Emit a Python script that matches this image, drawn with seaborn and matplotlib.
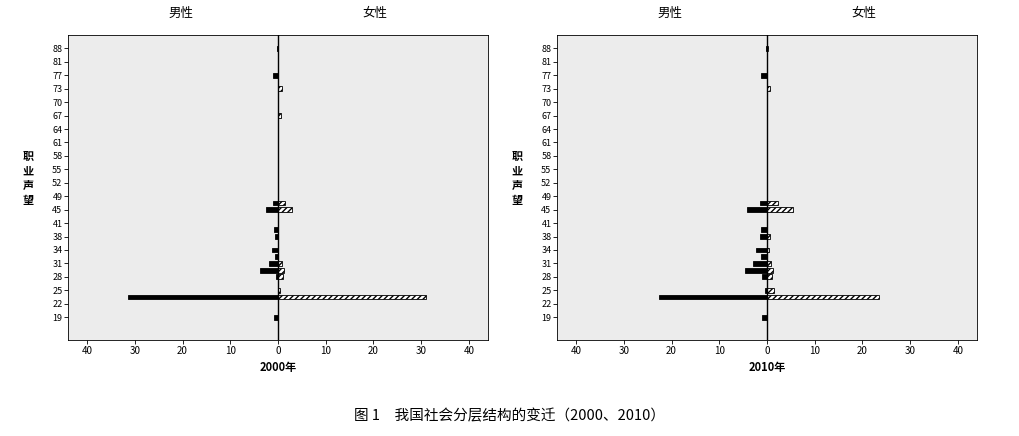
import numpy as np
import pandas as pd
import matplotlib
matplotlib.use("Agg")
import matplotlib.pyplot as plt
import seaborn as sns

# occupational prestige tick labels (evenly spaced in the original)
tick_scores = [19, 22, 25, 28, 31, 34, 38, 41, 45, 49, 52, 55, 58, 61, 64, 67, 70, 73, 77, 81, 88]

# 2000
male_2000_scores = [88, 77, 47, 45, 39.5, 38, 34, 32.5, 31, 29.5, 28, 23.5, 19]
male_2000_values = [0.2, 1.1, 1.0, 2.5, 0.8, 0.6, 1.2, 0.7, 1.8, 3.8, 0.5, 31.5, 0.8]
female_2000_scores = [73, 67, 47, 45, 31, 29.5, 28, 25, 23.5]
female_2000_values = [0.8, 0.6, 1.5, 3.0, 0.8, 1.2, 1.0, 0.5, 31.0]

# 2010
male_2010_scores = [88, 77, 47, 45, 39.5, 38, 34, 32.5, 31, 29.5, 28, 25, 23.5, 19]
male_2010_values = [0.3, 1.2, 1.5, 4.2, 1.2, 1.5, 2.3, 1.2, 3.0, 4.6, 1.0, 0.5, 22.7, 1.0]
female_2010_scores = [88, 73, 47, 45, 38, 34, 31, 29.5, 28, 25, 23.5]
female_2010_values = [0.2, 0.6, 2.3, 5.5, 0.6, 0.5, 0.8, 1.2, 1.0, 1.5, 23.5]

years = ["2000年", "2010年"]

plt.rcParams['font.family'] = ['Noto Sans CJK SC', 'DejaVu Sans']


def to_pos(scores):
    return np.interp(scores, tick_scores, np.arange(len(tick_scores)))


def build(ms, mv, fs, fv):
    m = pd.DataFrame({"pos": to_pos(ms), "value": -np.array(mv), "sex": "男性"})
    f = pd.DataFrame({"pos": to_pos(fs), "value": np.array(fv), "sex": "女性"})
    return pd.concat([m, f], ignore_index=True)


frames = [
    build(male_2000_scores, male_2000_values, female_2000_scores, female_2000_values),
    build(male_2010_scores, male_2010_values, female_2010_scores, female_2010_values),
]

fig = plt.figure(figsize=(10.2, 4.36), dpi=100)
lefts = [68 / 1020, 557 / 1020]
for left, df, year in zip(lefts, frames, years):
    ax = fig.add_axes([left, 96 / 436, 420 / 1020, 305 / 436])
    ax.set_facecolor("#ececec")
    m = df[df["sex"] == "男性"]
    f = df[df["sex"] == "女性"]
    sns.barplot(data=m, x="value", y="pos", orient="h", native_scale=True,
                color="black", width=1.0, ax=ax, edgecolor="black", linewidth=0.6)
    sns.barplot(data=f, x="value", y="pos", orient="h", native_scale=True,
                color="white", width=1.0, ax=ax, edgecolor="black", linewidth=0.6,
                hatch="//////")
    for p in ax.patches:
        h = p.get_height()
        y = p.get_y() + h / 2
        p.set_height(0.36)
        p.set_y(y - 0.18)
    ax.axvline(0, color="black", lw=1)
    ax.set_xlim(-44, 44)
    ax.set_ylim(-1.7, 21.0)
    ax.set_xticks([-40, -30, -20, -10, 0, 10, 20, 30, 40])
    ax.set_xticklabels(["40", "30", "20", "10", "0", "10", "20", "30", "40"], fontsize=7)
    ax.set_yticks(np.arange(len(tick_scores)))
    ax.set_yticklabels([str(s) for s in tick_scores], fontsize=6.5)
    ax.tick_params(length=3, width=0.6, pad=1)
    ax.set_xlabel(year, fontsize=8, fontweight="bold")
    ax.set_ylabel("")
    for s in ax.spines.values():
        s.set_linewidth(0.6)
    ax.text(0.27, 1.06, "男性", transform=ax.transAxes, ha="center", fontsize=9)
    ax.text(0.73, 1.06, "女性", transform=ax.transAxes, ha="center", fontsize=9)
    ax.text(-0.095, 0.53, "职\n业\n声\n望", transform=ax.transAxes, ha="center",
            va="center", fontsize=8, fontweight="bold", linespacing=1.15)

fig.text(0.5, 0.035, "图 1　我国社会分层结构的变迁（2000、2010）", ha="center",
         fontsize=10.5, family=["Noto Sans CJK SC", "DejaVu Sans"])
fig.savefig("out.png", dpi=100)
